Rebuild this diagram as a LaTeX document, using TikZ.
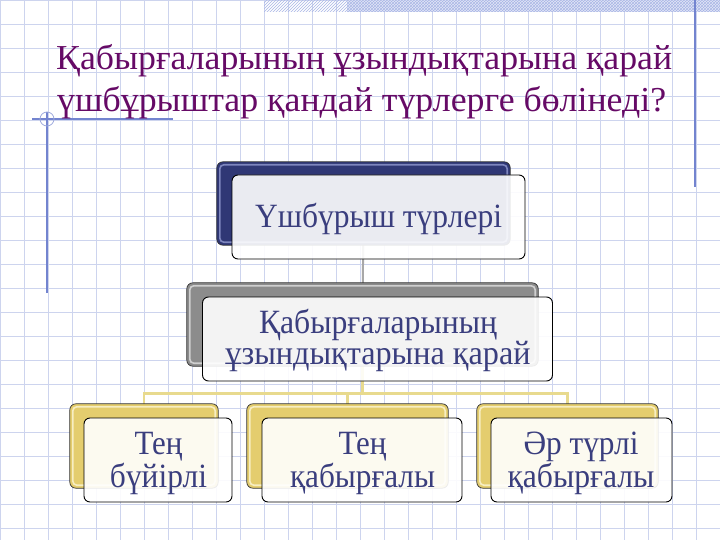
\documentclass[tikz,border=0pt]{standalone}
\usepackage{fontspec}
\setmainfont{Liberation Serif}
\usepackage{graphicx}
\usetikzlibrary{patterns}
\definecolor{gridc}{HTML}{CDD4EE}
\definecolor{decoc}{HTML}{7384CF}
\definecolor{titlec}{HTML}{660A66}
\definecolor{txtc}{HTML}{3A3E7E}
\definecolor{navyb}{HTML}{2F3775}
\definecolor{navyhi}{HTML}{7E86BE}
\definecolor{grayb}{HTML}{8C8C8C}
\definecolor{grayhi}{HTML}{CFCFCF}
\definecolor{yelb}{HTML}{E4CD6E}
\definecolor{yelhi}{HTML}{F7EEC2}
\definecolor{conng}{HTML}{A8A8A8}
\definecolor{conny}{HTML}{E8DA8E}
\definecolor{bandc}{HTML}{A9B6E6}
\definecolor{bandbg}{HTML}{E3E7F7}
\newcommand\fitw[2]{\resizebox{#1}{\height}{#2}}
\newcommand\twolines[3]{\vbox{\baselineskip=#1\lineskiplimit=-100pt\lineskip=0pt\halign{\hfil##\hfil\cr #2\cr #3\cr}}}
\tikzset{
  gridline/.style={gridc, line width=0.9pt},
  decoline/.style={decoc, line width=1.2pt},
  backbox/.style={draw=black!80, line width=0.7pt, rounded corners=6pt, inner sep=0pt},
  frontbox/.style={draw=black, line width=0.9pt, rounded corners=6pt, fill=white, fill opacity=0.9, inner sep=0pt},
  boxtxt/.style={anchor=base, inner sep=0pt, text=txtc, font=\fontsize{34}{34}\selectfont},
  titletxt/.style={anchor=base west, inner sep=0pt, text=titlec, font=\fontsize{35}{35}\selectfont},
  hilite/.style={line width=1.6pt, rounded corners=4pt},
  grayconn/.style={conng, line width=2pt},
  yelconn/.style={conny, line width=2.6pt},
}
\begin{document}
\begin{tikzpicture}[x=1pt, y=-1pt]
\useasboundingbox (0,0) rectangle (720,540);
\fill[white] (0,0) rectangle (720,540);
% grid
\foreach \i in {0,...,30} \draw[gridline] (\i*24,0) -- (\i*24,540);
\foreach \j in {0,...,22} \draw[gridline] (0,\j*24) -- (720,\j*24);
% top band
\fill[pattern=north east lines, pattern color=bandc] (264,0) rectangle (347,12);
\fill[bandbg] (347,0) rectangle (720,12);
\fill[pattern=crosshatch, pattern color=bandc] (347,0) rectangle (720,12);
% decorative lines
\draw[decoline] (32,119) -- (173,119);
\draw[decoline] (47,112) -- (47,293);
\draw[decoc!70, line width=0.8pt] (47,119) circle[radius=7];
\draw[decoline] (695,0) -- (695,187);
% title
\node[titletxt] (title1) at (56,70) {\fitw{616pt}{Қабырғаларының ұзындықтарына қарай}};
\node[titletxt] (title2) at (57,111.5) {\fitw{609pt}{үшбұрыштар қандай түрлерге бөлінеді?}};
% back box positions (for connectors)
\coordinate (bus) at (362.5,393.5);
\node[minimum width=293pt, minimum height=83pt, inner sep=0pt] (tb) at (363.5,203.5) {};
\node[minimum width=351pt, minimum height=83pt, inner sep=0pt] (mb) at (362.5,324.5) {};
\node[minimum width=148pt, minimum height=84pt, inner sep=0pt] (b1b) at (144,446) {};
\node[minimum width=201pt, minimum height=84pt, inner sep=0pt] (b2b) at (347.5,446) {};
\node[minimum width=181pt, minimum height=84pt, inner sep=0pt] (b3b) at (567.5,446) {};
% connectors
\draw[grayconn] (tb.center) -- (mb.center);
\draw[yelconn] (mb.center) -- (bus);
\draw[yelconn] (b1b.center) |- (bus);
\draw[yelconn] (b2b.center) |- (bus);
\draw[yelconn] (b3b.center) |- (bus);
% back boxes
\draw[backbox, fill=navyb] (tb.north west) rectangle (tb.south east);
\draw[hilite, navyhi] ([shift={(3,3)}]tb.north west) rectangle ([shift={(-3,-3)}]tb.south east);
\draw[backbox, fill=grayb] (mb.north west) rectangle (mb.south east);
\draw[hilite, grayhi] ([shift={(3,3)}]mb.north west) rectangle ([shift={(-3,-3)}]mb.south east);
\foreach \b in {b1b,b2b,b3b}{
  \draw[backbox, fill=yelb] (\b.north west) rectangle (\b.south east);
  \draw[hilite, yelhi] ([shift={(3,3)}]\b.north west) rectangle ([shift={(-3,-3)}]\b.south east);
}
% front boxes
\node[frontbox, minimum width=293pt, minimum height=84pt] (tf) at (378.5,217) {};
\node[frontbox, minimum width=350pt, minimum height=84pt] (mf) at (377.5,339) {};
\node[frontbox, minimum width=148pt, minimum height=84pt] (b1f) at (158,460) {};
\node[frontbox, minimum width=200pt, minimum height=84pt] (b2f) at (362,460) {};
\node[frontbox, minimum width=181pt, minimum height=84pt] (b3f) at (581.5,460) {};
% texts (anchor base = baseline of the last line)
\node[boxtxt] (tt) at (378.5,228) {\fitw{247pt}{Үшбүрыш түрлері}};
\node[boxtxt] (mt) at (378,364) {\twolines{31pt}{\fitw{238pt}{Қабырғаларының}}{\fitw{305pt}{ұзындықтарына қарай}}};
\node[boxtxt] (b1t) at (158.5,487) {\twolines{32.5pt}{\fitw{48pt}{Тең}}{\fitw{97pt}{бүйірлі}}};
\node[boxtxt] (b2t) at (362.5,487) {\twolines{32.5pt}{\fitw{48pt}{Тең}}{\fitw{145pt}{қабырғалы}}};
\node[boxtxt] (b3t) at (581,487) {\twolines{32.5pt}{\fitw{115pt}{Әр түрлі}}{\fitw{147pt}{қабырғалы}}};
\end{tikzpicture}
\end{document}
